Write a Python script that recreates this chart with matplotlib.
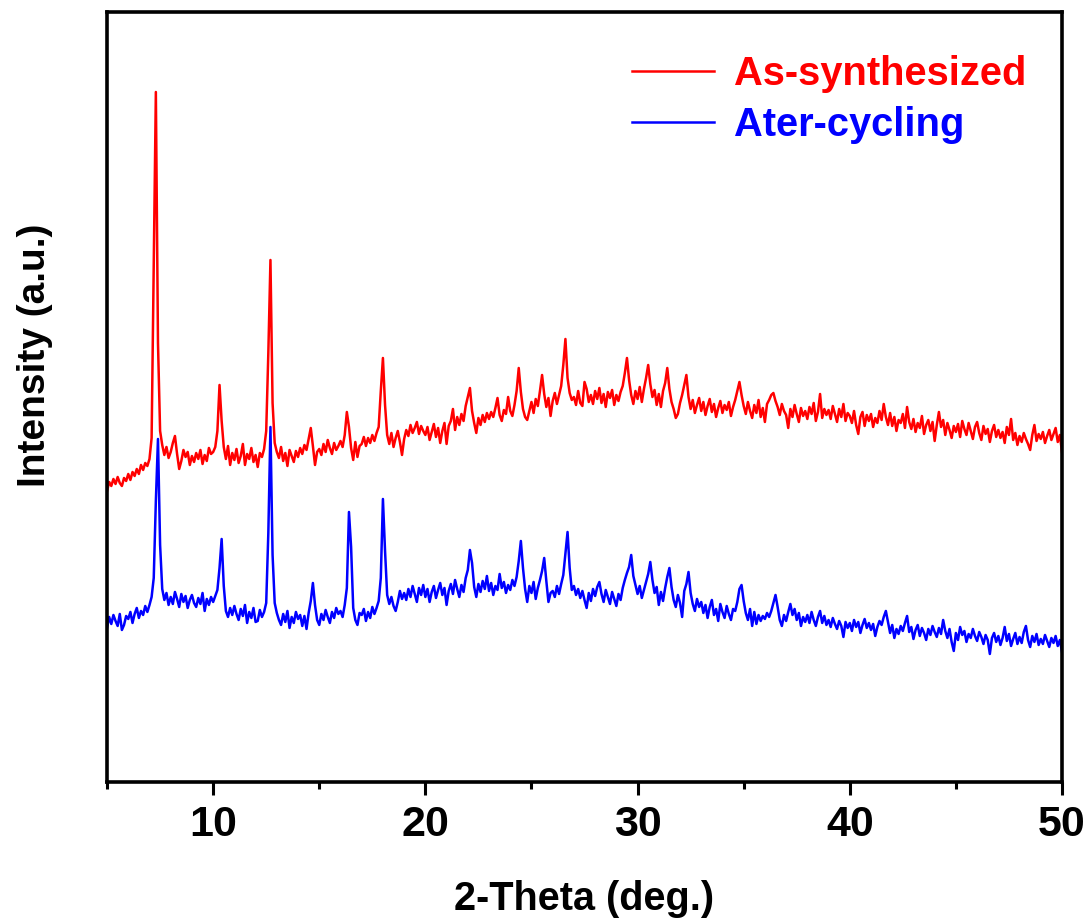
import numpy as np
import matplotlib.pyplot as plt

plt.rcParams['font.family'] = ['Liberation Sans', 'DejaVu Sans']
plt.rcParams['font.weight'] = 'bold'

# 2-theta scan, 0.1 deg step from 5 to 50
two_theta = np.linspace(5, 50, 451)

# intensities (a.u., already offset for stacking), one row per degree
as_synth = [
    292, 301, 297, 304, 299, 306, 300, 297, 305, 302,
    309, 303, 311, 307, 314, 309, 318, 313, 320, 317,
    324, 345, 520, 691, 440, 352, 338, 328, 336, 325,
    331, 340, 347, 329, 314, 322, 333, 326, 331, 318,
    327, 321, 330, 324, 333, 319, 328, 322, 335, 329,
    331, 336, 352, 398, 362, 336, 324, 337, 318, 330,
    323, 334, 320, 327, 339, 318, 329, 324, 335, 321,
    328, 316, 330, 326, 334, 352, 430, 523, 380, 340,
    331, 325, 336, 322, 330, 317, 333, 327, 321, 332,
    326, 335, 329, 338, 333, 344, 355, 337, 318, 331,
    334, 328, 339, 331, 343, 335, 329, 340, 333, 337,
    342, 336, 348, 371, 356, 335, 323, 341, 326, 337,
    339, 346, 337, 345, 340, 348, 342, 350, 356, 392,
    425, 378, 348, 339, 350, 336, 345, 352, 341, 328,
    344, 353, 347, 358, 350, 355, 361, 349, 357, 352,
    348, 356, 343, 351, 359, 346, 355, 340, 352, 360,
    339, 357, 362, 374, 353, 366, 358, 369, 362, 377,
    386, 395, 372, 360, 350, 365, 358, 368, 361, 370,
    364, 371, 366, 375, 385, 368, 362, 373, 369, 386,
    372, 367, 378, 392, 415, 391, 374, 366, 363, 372,
    381, 370, 384, 377, 392, 408, 389, 376, 385, 367,
    382, 390, 379, 388, 397, 418, 444, 405, 390, 383,
    386, 378, 392, 380, 377, 401, 394, 381, 388, 379,
    392, 384, 395, 380, 389, 376, 391, 385, 393, 378,
    388, 382, 391, 397, 410, 425, 403, 388, 379, 392,
    384, 396, 381, 394, 405, 418, 399, 386, 393, 378,
    389, 376, 392, 400, 415, 394, 381, 374, 365, 369,
    380, 388, 398, 408, 386, 374, 383, 370, 378, 385,
    372, 381, 368, 377, 384, 371, 379, 366, 375, 382,
    370, 378, 373, 381, 367, 376, 383, 392, 401, 388,
    377, 369, 381, 372, 365, 378, 370, 383, 366, 375,
    361, 379, 383, 388, 390, 382, 376, 368, 379, 372,
    368, 355, 374, 366, 378, 369, 361, 375, 367, 372,
    364, 376, 369, 380, 362, 371, 389, 365, 374, 368,
    373, 364, 377, 369, 361, 374, 366, 379, 362, 370,
    367, 360, 372, 358, 349, 366, 371, 357, 368, 362,
    369, 356, 365, 360, 372, 363, 379, 366, 358, 370,
    357, 366, 352, 363, 360, 369, 355, 376, 361, 354,
    364, 351, 360, 355, 367, 349, 358, 363, 352, 361,
    342, 358, 371, 356, 363, 348, 360, 353, 345, 357,
    351, 359, 346, 362, 354, 348, 360, 352, 344, 356,
    361, 350, 343, 357, 349, 354, 341, 352, 358, 346,
    353, 345, 351, 340, 356, 348, 364, 343, 350, 338,
    347, 341, 350, 344, 339, 333, 348, 358, 342, 349,
    344, 351, 340, 347, 353, 343, 349, 355, 341, 348,
    331,
]

after_cyc = [
    155, 166, 159, 168, 162, 157, 169, 153, 158, 167,
    164, 171, 160, 169, 175, 165, 172, 168, 177, 171,
    178, 186, 205, 282, 344, 238, 194, 183, 190, 178,
    186, 179, 191, 184, 176, 189, 181, 187, 175, 183,
    188, 180, 176, 185, 179, 190, 172, 184, 178, 186,
    181, 187, 193, 215, 244, 197, 172, 166, 175, 168,
    177, 169, 163, 174, 167, 178, 160, 171, 165, 175,
    161, 162, 173, 166, 171, 180, 250, 356, 228, 180,
    170, 163, 158, 169, 161, 172, 155, 166, 160, 171,
    164, 168, 157, 167, 154, 170, 182, 200, 178, 163,
    158, 169, 163, 173, 166, 160, 171, 165, 175, 169,
    172, 166, 178, 195, 271, 236, 175, 163, 158, 170,
    168, 174, 162, 171, 165, 176, 169, 175, 182, 205,
    284, 232, 188, 179, 186, 177, 172, 181, 192, 184,
    190, 183, 194, 186, 197, 189, 181, 195, 188, 198,
    186, 194, 181, 191, 197, 185, 193, 200, 188, 195,
    178, 192, 199, 189, 203, 194, 186, 198, 191, 205,
    213, 233, 220, 196, 186, 199, 191, 202, 194, 207,
    192, 200, 188, 197, 193, 209, 195, 201, 190, 198,
    193, 203, 197, 206, 222, 242, 215, 194, 181, 197,
    190, 201, 184, 195, 203, 212, 225, 202, 181, 190,
    192, 186, 197, 189, 199, 208, 230, 251, 215, 193,
    197, 188, 194, 185, 192, 183, 175, 190, 182, 194,
    187, 196, 201, 189, 181, 193, 186, 179, 191, 184,
    177, 189, 183, 195, 203, 210, 216, 228, 207, 198,
    189, 197, 185, 193, 201, 209, 221, 203, 190, 196,
    178, 191, 182, 195, 206, 215, 196, 183, 176, 188,
    180, 166, 192, 199, 211, 190, 179, 172, 184, 176,
    181, 170, 178, 165, 176, 183, 168, 174, 162, 179,
    171, 165, 177, 169, 163, 174, 172, 181, 194, 198,
    182, 170, 163, 174, 157, 171, 159, 168, 162, 167,
    164, 170, 166, 172, 180, 188, 176, 163, 157, 168,
    162, 171, 179, 168, 174, 163, 170, 157, 166, 161,
    168, 160, 171, 163, 157, 166, 172, 160, 167, 158,
    163, 156, 165, 159, 154, 162, 157, 146, 161, 155,
    160, 152, 163, 156, 161, 150, 158, 164, 155, 160,
    153, 159, 147, 156, 162, 158, 166, 172, 161, 150,
    158, 145, 154, 149, 157, 152, 160, 167, 151, 156,
    144, 153, 158, 147, 155, 150, 143, 154, 148, 157,
    151, 146, 155, 149, 163, 152, 145, 154, 141, 132,
    150, 143, 156, 148, 152, 141, 149, 145, 154, 147,
    142, 151, 146, 139, 148, 143, 129, 145, 150, 141,
    147, 138, 145, 156, 142, 149, 137, 144, 150, 139,
    146, 140, 151, 157, 143, 136, 147, 141, 149, 138,
    144, 139, 148, 142, 136, 145, 140, 147, 137, 143,
    131,
]

labels = ['As-synthesized', 'Ater-cycling']
colors = ['#ff0000', '#0000ff']

fig = plt.figure(figsize=(10.89, 9.23), dpi=100)
ax = fig.add_axes([0.0983, 0.1528, 0.8769, 0.8342])

ax.plot(two_theta, as_synth, color=colors[0], lw=1.8, label=labels[0])
ax.plot(two_theta, after_cyc, color=colors[1], lw=1.8, label=labels[1])

ax.set_xlim(5, 50)
ax.set_ylim(1, 771)
ax.set_xticks([10, 20, 30, 40, 50])
ax.set_xticks([5, 15, 25, 35, 45], minor=True)
ax.set_yticks([])
ax.tick_params(axis='x', which='major', direction='out', length=9.5, width=2.2,
               labelsize=31, pad=7)
ax.tick_params(axis='x', which='minor', direction='out', length=4.8, width=2.2)
for sp in ax.spines.values():
    sp.set_linewidth(2.6)

fig.text(0.5367, 0.0141, '2-Theta (deg.)', fontsize=28.5, fontweight='bold',
         ha='center', va='baseline')
fig.text(0.032, 0.615, 'Intensity (a.u.)', fontsize=28, fontweight='bold',
         rotation=90, ha='center', va='center')

leg = ax.legend(loc='upper left', bbox_to_anchor=(0.5497, 0.944), frameon=False,
                fontsize=28.7, handlelength=2.05, handletextpad=0.5,
                labelspacing=0.32, borderpad=0, borderaxespad=0,
                labelcolor='linecolor')
for line in leg.get_lines():
    line.set_linewidth(1.8)

fig.savefig('out.png', dpi=100)
